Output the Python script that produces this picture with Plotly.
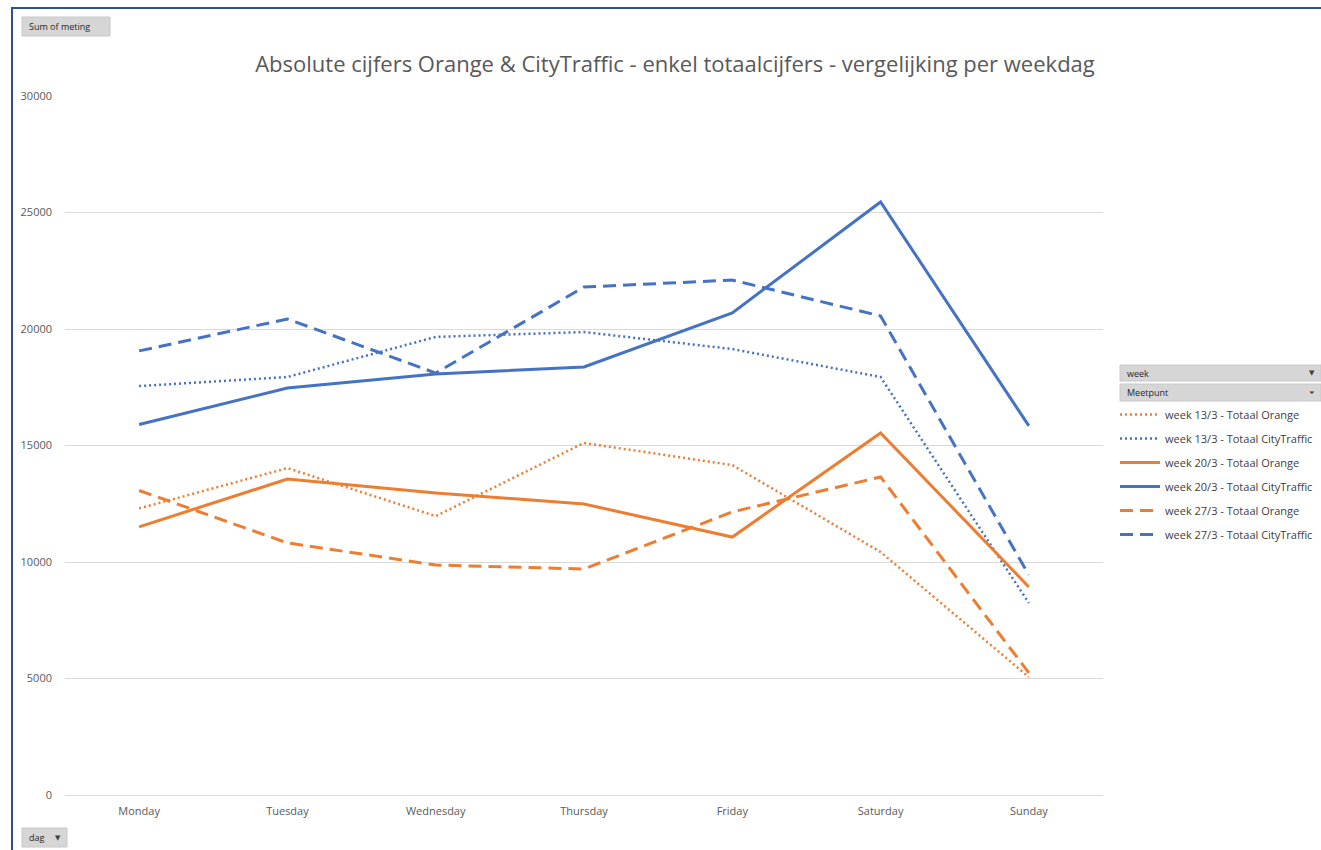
import plotly.graph_objects as go

W, H = 1321, 850

days = ["Monday", "Tuesday", "Wednesday", "Thursday", "Friday", "Saturday", "Sunday"]

orange_13 = [12300, 14030, 11970, 15110, 14160, 10430, 5060]
city_13 = [17550, 17940, 19660, 19870, 19140, 17940, 8240]
orange_20 = [11510, 13560, 12960, 12490, 11070, 15540, 8930]
city_20 = [15900, 17470, 18070, 18370, 20690, 25450, 15840]
orange_27 = [13070, 10820, 9870, 9700, 12150, 13650, 5240]
city_27 = [19060, 20430, 18110, 21800, 22100, 20560, 9440]

names = [
    "week 13/3 - Totaal Orange",
    "week 13/3 - Totaal CityTraffic",
    "week 20/3 - Totaal Orange",
    "week 20/3 - Totaal CityTraffic",
    "week 27/3 - Totaal Orange",
    "week 27/3 - Totaal CityTraffic",
]
series = [orange_13, city_13, orange_20, city_20, orange_27, city_27]

ORANGE = "#ED7D31"
BLUE = "#4472C4"
colors = [ORANGE, BLUE, ORANGE, BLUE, ORANGE, BLUE]
styles = [("2px,3px", 2.5), ("2px,3px", 2.5), ("solid", 3), ("solid", 3), ("13px,7px", 3), ("13px,7px", 3)]

title_text = "Absolute cijfers Orange & CityTraffic - enkel totaalcijfers - vergelijking per weekdag"
y_ticks = [0, 5000, 10000, 15000, 20000, 25000, 30000]


def px(x):
    return x / W


def py(y):
    return 1 - y / H


fig = go.Figure()
for i, (nm, vals) in enumerate(zip(names, series)):
    dash, lw = styles[i]
    fig.add_trace(go.Scatter(
        x=days, y=vals, mode="lines", name=nm, legendgroup=nm,
        line=dict(color=colors[i], width=lw, dash=dash),
        hoverinfo="x+y+name",
    ))

shapes = []
annotations = []

# outer border (top and left)
shapes.append(dict(type="line", xref="paper", yref="paper", x0=px(11), x1=px(1321), y0=py(8), y1=py(8),
                   line=dict(color="#2F528F", width=2)))
shapes.append(dict(type="line", xref="paper", yref="paper", x0=px(12), x1=px(12), y0=py(8), y1=py(850),
                   line=dict(color="#2F528F", width=2)))


def button(x0, y0, x1, y1, text, arrow=None, size=10):
    shapes.append(dict(type="rect", xref="paper", yref="paper", x0=px(x0), x1=px(x1), y0=py(y1), y1=py(y0),
                       fillcolor="#D6D6D6", line=dict(color="#C8C8C8", width=1), layer="above"))
    annotations.append(dict(text=text, xref="paper", yref="paper", x=px(x0 + 5), y=py((y0 + y1) / 2),
                            xanchor="left", yanchor="middle", showarrow=False,
                            font=dict(family="Open Sans, Arial", size=size, color="#262626")))
    if arrow:
        annotations.append(dict(text=arrow, xref="paper", yref="paper", x=px(x1 - 4), y=py((y0 + y1) / 2),
                                xanchor="right", yanchor="middle", showarrow=False,
                                font=dict(family="DejaVu Sans", size=7, color="#404040")))


button(22, 17, 110, 36, "Sum of meting", size=9)
button(22, 828, 67, 847, "dag", "▼", size=9)
button(1120, 365, 1321, 381, "week", "▼", size=9)
button(1120, 384, 1321, 401, "Meetpunt", "⏷", size=9)

fig.update_layout(
    width=W, height=H,
    margin=dict(l=0, r=0, t=0, b=0, autoexpand=False),
    paper_bgcolor="white", plot_bgcolor="white",
    title=dict(text=title_text, x=px(675), y=py(64), xref="paper", yref="paper",
               xanchor="center", yanchor="middle",
               font=dict(family="Open Sans, Arial", size=22, color="#595959")),
    xaxis=dict(domain=[px(65), px(1103)], range=[-0.5, 6.5], showgrid=False, zeroline=False,
               showline=True, automargin=False,
               linecolor="#D9D9D9", linewidth=1, ticks="", ticklabelstandoff=6,
               tickfont=dict(family="Open Sans, Arial", size=11, color="#595959")),
    yaxis=dict(domain=[py(795), py(96)], range=[0, 30000], tickvals=y_ticks, automargin=False,
               ticktext=[str(v) for v in y_ticks], showgrid=True, gridcolor="#D9D9D9",
               gridwidth=1, zeroline=False, showline=False, ticks="", ticklabelstandoff=12,
               tickfont=dict(family="Open Sans, Arial", size=11, color="#595959")),
    showlegend=True,
    legend=dict(x=px(1115), y=py(400), xanchor="left", yanchor="top", traceorder="grouped",
                tracegroupgap=5, font=dict(family="Open Sans, Arial", size=11, color="#404040"),
                bgcolor="rgba(0,0,0,0)", itemwidth=40),
    shapes=shapes, annotations=annotations,
)

fig.write_html("out.html", config={"displayModeBar": False},
               post_script="document.body.style.margin='0';document.body.style.overflow='hidden';")
